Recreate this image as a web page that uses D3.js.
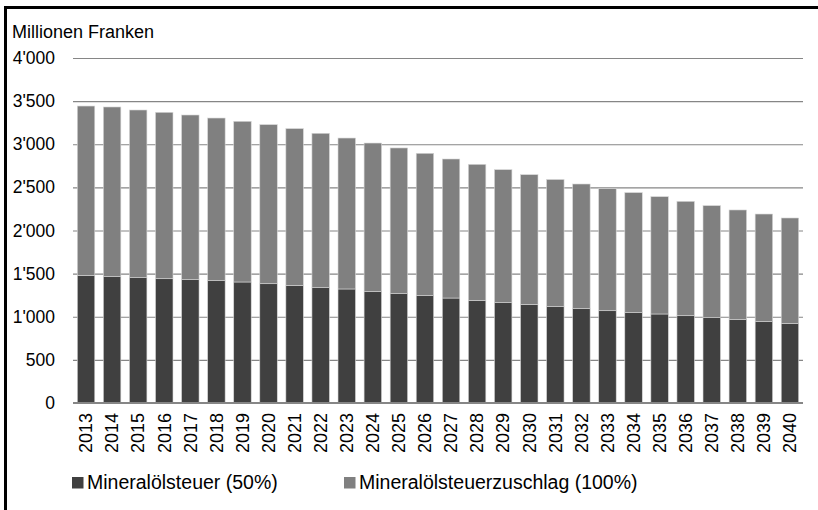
<!DOCTYPE html>
<html>
<head>
<meta charset="utf-8">
<script src="https://cdn.jsdelivr.net/npm/d3@7"></script>
<style>
  body { margin: 0; background: #fff; overflow: hidden; }
  svg { display: block; font-family: "Liberation Sans", Arial, sans-serif; }
</style>
</head>
<body>
<svg class="chart" width="818" height="510"></svg>
<script>
const years = ['2013', '2014', '2015', '2016', '2017', '2018', '2019', '2020', '2021', '2022',
  '2023', '2024', '2025', '2026', '2027', '2028', '2029', '2030', '2031', '2032',
  '2033', '2034', '2035', '2036', '2037', '2038', '2039', '2040'];

// Mineralölsteuer (50%)
const steuer = [1480, 1465, 1453, 1441, 1430, 1418, 1403, 1383, 1364, 1337,
  1322, 1291, 1268, 1245, 1217, 1190, 1163, 1144, 1117, 1094,
  1070, 1047, 1032, 1012, 989, 966, 943, 924];

// Mineralölsteuerzuschlag (100%)
const zuschlag = [1963, 1967, 1944, 1929, 1909, 1886, 1863, 1844, 1817, 1790,
  1750, 1723, 1689, 1650, 1612, 1577, 1542, 1503, 1474, 1445,
  1415, 1392, 1360, 1326, 1299, 1272, 1248, 1221];

const yTicks = [0, 500, 1000, 1500, 2000, 2500, 3000, 3500, 4000];
const seriesNames = ['Mineralölsteuer (50%)', 'Mineralölsteuerzuschlag (100%)'];
const colors = ['#404040', '#808080'];

const margin = {top: 58, left: 73, right: 803, bottom: 403};

const svg = d3.select('.chart');

// outer frame: only top and left edges are inside the picture
svg.append('path')
  .attr('d', 'M5.5,900V7.5H900')
  .attr('fill', 'none')
  .attr('stroke', '#000')
  .attr('stroke-width', 3);

const table = years.map((y, i) => ({year: y, steuer: steuer[i], zuschlag: zuschlag[i]}));
const stacked = d3.stack().keys(['steuer', 'zuschlag'])(table);

const x = d3.scaleBand()
  .domain(years)
  .range([margin.left, margin.right])
  .paddingInner(0.33)
  .paddingOuter(0.165);

const y = d3.scaleLinear().domain([0, 4000]).range([margin.bottom, margin.top]);

const fmt = d3.formatLocale({decimal: '.', thousands: "'", grouping: [3], currency: ['', '']}).format(',');

// gridlines + y labels
const yAxis = d3.axisLeft(y)
  .tickValues(yTicks)
  .tickFormat(fmt)
  .tickSize(-(margin.right - margin.left))
  .tickPadding(18);

const gy = svg.append('g')
  .attr('transform', 'translate(' + margin.left + ',0)')
  .call(yAxis);
gy.select('.domain').remove();
gy.selectAll('.tick line')
  .attr('stroke', '#868686')
  .attr('stroke-width', 1.2);
gy.selectAll('.tick text')
  .attr('fill', '#000')
  .style('font-size', '17.5px')
  .style('font-family', '"Liberation Sans", Arial, sans-serif');

// bars
svg.append('g').selectAll('g')
  .data(stacked)
  .enter().append('g')
  .attr('fill', (d, i) => colors[i])
  .selectAll('rect')
  .data(d => d)
  .enter().append('rect')
  .attr('x', d => x(d.data.year))
  .attr('y', d => y(d[1]))
  .attr('width', x.bandwidth())
  .attr('height', d => y(d[0]) - y(d[1]))
  .attr('stroke', '#d6d6d6')
  .attr('stroke-width', 0.6);

// x axis
const xAxis = d3.axisBottom(x).tickSize(0).tickPadding(0);
const gx = svg.append('g')
  .attr('transform', 'translate(0,' + margin.bottom + ')')
  .call(xAxis);
gx.select('.domain')
  .attr('stroke', '#868686')
  .attr('stroke-width', 2)
  .attr('d', 'M' + margin.left + ',0H' + margin.right);
gx.selectAll('.tick text')
  .attr('fill', '#000')
  .style('font-size', '18px')
  .style('font-family', '"Liberation Sans", Arial, sans-serif')
  .attr('text-anchor', 'end')
  .attr('transform', 'rotate(-90)')
  .attr('x', -10)
  .attr('y', 0)
  .attr('dy', '0.35em');

// unit label
svg.append('text')
  .attr('x', 12)
  .attr('y', 38)
  .style('font-size', '18px')
  .text('Millionen Franken');

// legend
const legendX = [72, 344];
const legend = svg.append('g').selectAll('g')
  .data(seriesNames)
  .enter().append('g')
  .attr('transform', (d, i) => 'translate(' + legendX[i] + ',477)');

legend.append('rect')
  .attr('width', 11.5)
  .attr('height', 11.5)
  .attr('fill', (d, i) => colors[i]);

legend.append('text')
  .attr('x', 15)
  .attr('y', 12)
  .style('font-size', '19.5px')
  .text(d => d);
</script>
</body>
</html>
